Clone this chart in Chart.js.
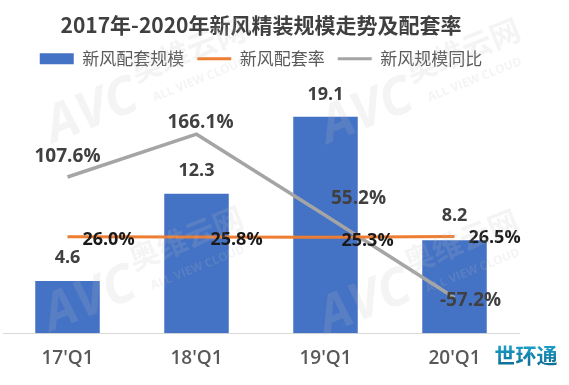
<!DOCTYPE html>
<html><head><meta charset="utf-8">
<script src="https://cdn.jsdelivr.net/npm/chart.js@4.4.0/dist/chart.umd.min.js"></script>
<style>html,body{margin:0;padding:0;background:#fff;overflow:hidden}</style>
</head><body>
<canvas id="c" width="569" height="385"></canvas>
<script>
const categories = ["17'Q1", "18'Q1", "19'Q1", "20'Q1"];
const scaleValues = [4.6, 12.3, 19.1, 8.2];        // 新风配套规模
const rateValues = [26.0, 25.8, 25.3, 26.5];       // 新风配套率 (%)
const yoyValues = [107.6, 166.1, 55.2, -57.2];     // 新风规模同比 (%)
const seriesNames = ['新风配套规模', '新风配套率', '新风规模同比'];
const titleText = '2017年-2020年新风精装规模走势及配套率';
const brandText = '世环通';

const FONT = "'Open Sans','Noto Sans CJK SC',sans-serif";
Chart.defaults.font.family = FONT;

const labelStyle = {
  0: {font: 'bold 18px ' + FONT, color: '#404040', off: [[0,-23],[0,-23],[0,-22],[0,-24]], fmt: v => v.toFixed(1)},
  1: {font: 'bold 18px ' + FONT, color: '#1a1a1a', off: [[41,3],[40,3],[42,4],[40,1]], fmt: v => v.toFixed(1) + '%'},
  2: {font: 'bold 19px ' + FONT, color: '#404040', off: [[0,-20],[4,-12],[33,-17],[16,3]], fmt: v => v.toFixed(1) + '%'}
};

const dataLabels = {
  id: 'dataLabels',
  afterDatasetsDraw(chart) {
    const ctx = chart.ctx;
    ctx.save();
    ctx.textAlign = 'center';
    ctx.textBaseline = 'middle';
    chart.data.datasets.forEach((ds, di) => {
      const st = labelStyle[di];
      const meta = chart.getDatasetMeta(di);
      ctx.font = st.font;
      ctx.fillStyle = st.color;
      meta.data.forEach((el, i) => {
        const o = st.off[i];
        ctx.fillText(st.fmt(ds.data[i]), el.x + o[0], el.y + o[1]);
      });
    });
    ctx.restore();
  }
};

const watermark = {
  id: 'watermark',
  afterDatasetsDraw(chart) {
    const ctx = chart.ctx;
    const centers = [[92,112],[367,112],[90,300],[365,303]];
    ctx.save();
    centers.forEach(([cx, cy]) => {
      ctx.save();
      ctx.translate(cx, cy);
      ctx.rotate(-0.38);
      ctx.fillStyle = 'rgba(190,190,190,0.17)';
      ctx.font = 'italic bold 52px ' + FONT;
      ctx.textAlign = 'center';
      ctx.textBaseline = 'middle';
      ctx.fillText('AVC', 0, 0);
      ctx.font = 'bold 30px "Noto Sans CJK SC"';
      ctx.textAlign = 'left';
      ctx.fillText('奥维云网', 52, -22);
      ctx.font = 'bold 12px ' + FONT;
      ctx.fillText('ALL VIEW CLOUD', 62, 10);
      ctx.restore();
    });
    ctx.font = 'bold 21px "Noto Sans CJK SC"';
    ctx.textAlign = 'center';
    ctx.textBaseline = 'middle';
    const g = ctx.createLinearGradient(0, 344, 0, 365);
    g.addColorStop(0, '#1ea3cc');
    g.addColorStop(1, '#0e6f96');
    ctx.fillStyle = g;
    ctx.fillText(brandText, 526, 355);
    ctx.restore();
  }
};

new Chart(document.getElementById('c'), {
  data: {
    labels: categories,
    datasets: [
      {type: 'bar', label: seriesNames[0], data: scaleValues, backgroundColor: '#4472C4', yAxisID: 'y', order: 3,
       barPercentage: 0.5, categoryPercentage: 1.0},
      {type: 'line', label: seriesNames[1], data: rateValues, borderColor: '#ED7D31', backgroundColor: '#ED7D31',
       borderWidth: 3, pointRadius: 0, yAxisID: 'y1', order: 1},
      {type: 'line', label: seriesNames[2], data: yoyValues, borderColor: '#A5A5A5', backgroundColor: '#A5A5A5',
       borderWidth: 3.5, pointRadius: 0, yAxisID: 'y1', order: 2}
    ]
  },
  options: {
    responsive: false,
    devicePixelRatio: 1,
    animation: false,
    layout: {padding: {left: 3, right: 50, top: 4, bottom: 1}},
    plugins: {
      title: {display: true, text: titleText, color: '#404040', font: {size: 21, weight: 'bold', family: "'Noto Sans CJK SC',sans-serif"}, padding: {top: 8, bottom: 0}},
      legend: {
        display: true, position: 'top',
        labels: {
          usePointStyle: true, pointStyleWidth: 34, boxHeight: 11, padding: 13,
          color: '#595959', font: {size: 17, family: "'Noto Sans CJK SC',sans-serif"},
          generateLabels(chart) {
            return chart.data.datasets.map((ds, i) => ({
              text: ds.label, datasetIndex: i, hidden: false,
              fillStyle: i === 0 ? ds.backgroundColor : 'rgba(0,0,0,0)',
              strokeStyle: i === 0 ? 'rgba(0,0,0,0)' : ds.borderColor,
              lineWidth: i === 0 ? 0 : 3,
              pointStyle: i === 0 ? 'rect' : 'line',
              fontColor: '#595959'
            }));
          }
        }
      },
      tooltip: {enabled: false}
    },
    scales: {
      x: {
        grid: {display: false, drawTicks: false},
        border: {display: true, color: '#d9d9d9', width: 1},
        ticks: {color: '#595959', font: {size: 19, weight: '600'}, padding: 14}
      },
      y: {display: false, min: 0, max: 22.6},
      y1: {display: false, min: -105.5, max: 243.8}
    }
  },
  plugins: [dataLabels, watermark]
});
</script>
</body></html>
